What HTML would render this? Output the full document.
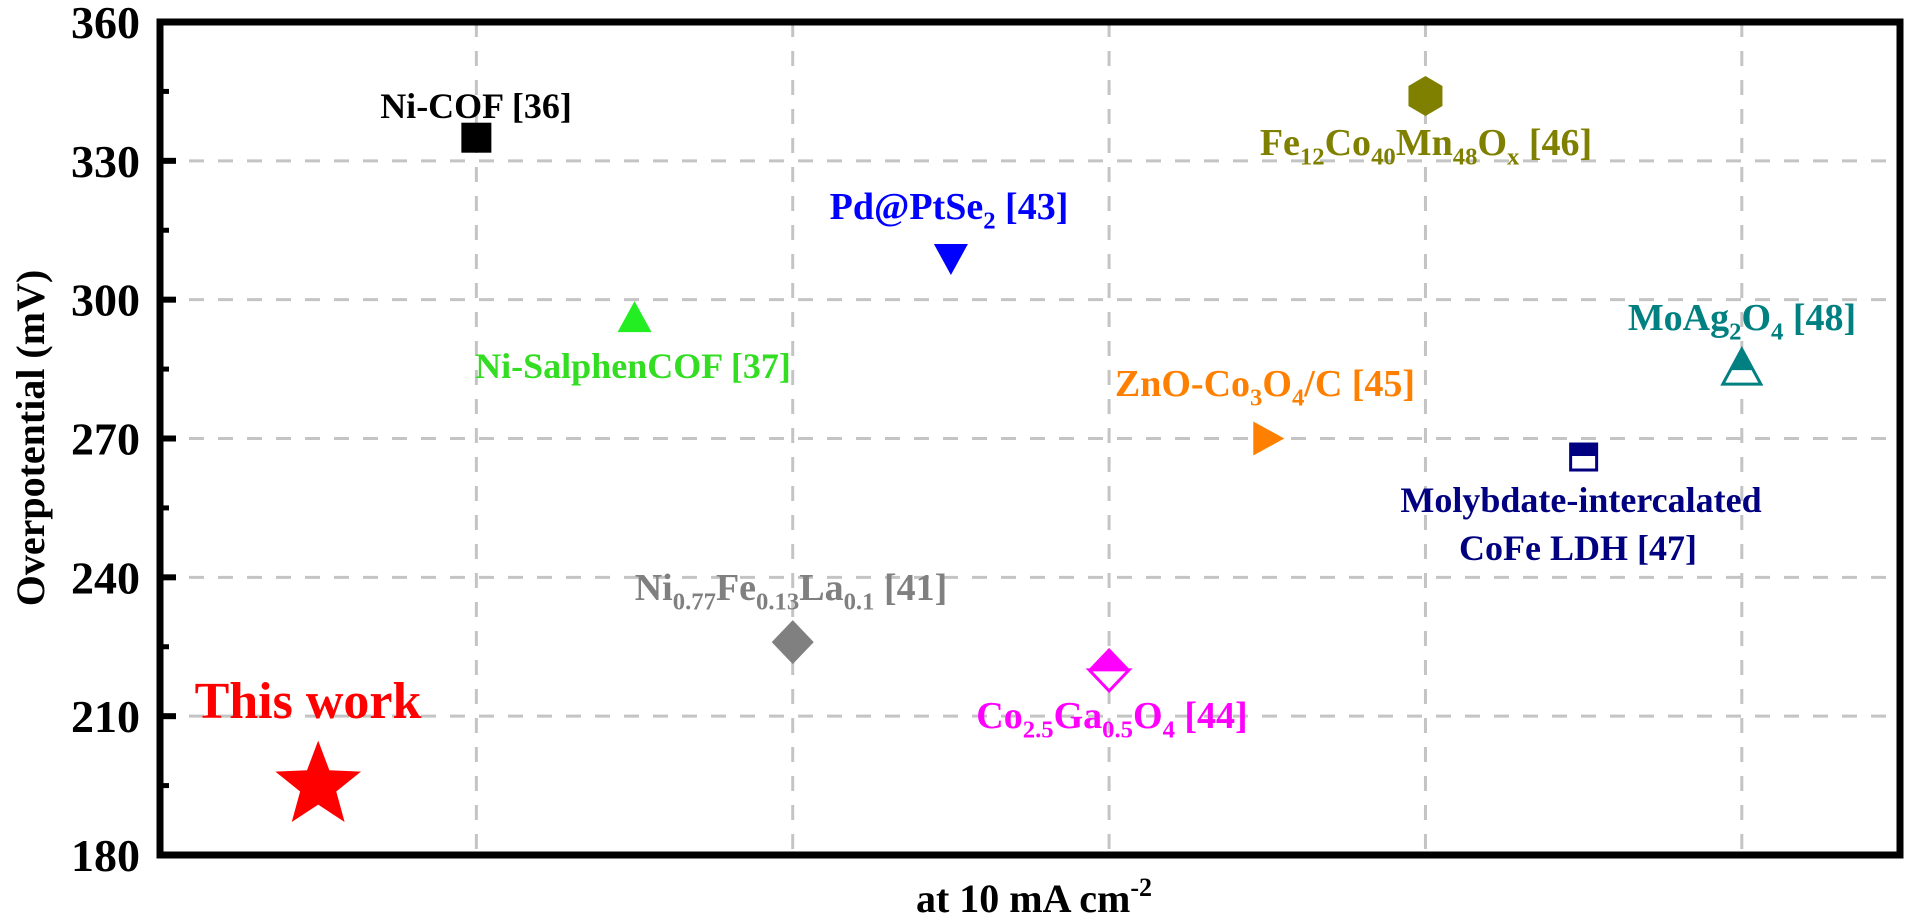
<!DOCTYPE html>
<html><head><meta charset="utf-8"><style>
html,body{margin:0;padding:0;background:#fff;}
svg{display:block;font-family:"Liberation Serif",serif;font-weight:bold;}
</style></head><body>
<svg id="chart" width="1908" height="918" viewBox="0 0 1908 918" xmlns="http://www.w3.org/2000/svg">
<g id="grid"></g>
<g id="marks"></g>
<g id="labels"></g>
<g id="axes"></g>
</svg>
<script>
const names = ["This work","Ni-COF [36]","Ni-SalphenCOF [37]","Ni0.77Fe0.13La0.1 [41]","Pd@PtSe2 [43]","Co2.5Ga0.5O4 [44]","ZnO-Co3O4/C [45]","Fe12Co40Mn48Ox [46]","Molybdate-intercalated CoFe LDH [47]","MoAg2O4 [48]"];
const xPos = [1,2,3,4,5,6,7,8,9,10];
const overpotential = [195,335,296,226,309,220,270,344,266,285];
const yTicks = [180,210,240,270,300,330,360];
const xTitle = "at 10 mA cm";
const yTitle = "Overpotential (mV)";

const X0=160,X1=1900,Y0=855,Y1=22;
const xs=k=>X0+(X1-X0)*k/11;
const ys=v=>Y0-(Y0-Y1)*(v-180)/180;
const NS="http://www.w3.org/2000/svg";
function mk(tag,attrs,parent){const e=document.createElementNS(NS,tag);for(const k in attrs)e.setAttribute(k,attrs[k]);parent.appendChild(e);return e;}
const grid=document.getElementById('grid'),marks=document.getElementById('marks'),labels=document.getElementById('labels'),axes=document.getElementById('axes');

// grid
for(let k=2;k<=10;k+=2){const l=mk('line',{x1:xs(k),x2:xs(k),y1:Y1,y2:Y0,stroke:'#c4c4c4','stroke-width':3,'stroke-dasharray':'15 14'},grid);

}
yTicks.slice(1,-1).forEach(v=>{const l=mk('line',{x1:X0,x2:X1,y1:ys(v),y2:ys(v),stroke:'#c4c4c4','stroke-width':3,'stroke-dasharray':'15 14'},grid);

});

// axes
const fr=mk('rect',{x:X0,y:Y1,width:X1-X0,height:Y0-Y1,fill:'none',stroke:'#000','stroke-width':7},axes);


yTicks.forEach(v=>{
 const t=mk('line',{x1:X0,x2:X0+16,y1:ys(v),y2:ys(v),stroke:'#000','stroke-width':6},axes);
 
 
 const tx=mk('text',{x:140,y:ys(v)+16,'text-anchor':'end','font-size':46},axes);
 tx.textContent=v;
 
 
 if(v<360){const m=mk('line',{x1:X0,x2:X0+9,y1:ys(v+15),y2:ys(v+15),stroke:'#000','stroke-width':5},axes);
 
 }
});
const yt=mk('text',{x:0,y:0,'text-anchor':'middle','font-size':40,transform:'translate(44,438) rotate(-90)'},axes);
yt.textContent=yTitle;


const xt=mk('text',{x:1034,y:912,'text-anchor':'middle','font-size':40},axes);
xt.textContent=xTitle;
const sup=mk('tspan',{'font-size':26,dy:-16},xt);sup.textContent='-2';



// markers
const colors=['#ff0000','#000000','#22ee22','#808080','#0000ff','#ff00ff','#ff8000','#808000','#000080','#008080'];
function marker(i){
 const cx=xs(xPos[i]),cy=ys(overpotential[i]),c=colors[i];let g=mk('g',{},marks);
 const P=(pts)=>pts.map(p=>(cx+p[0])+','+(cy+p[1])).join(' ');
 switch(i){
 case 0:{let pts=[];for(let j=0;j<10;j++){const r=j%2?19:45,a=-Math.PI/2+j*Math.PI/5;pts.push([r*Math.cos(a),r*Math.sin(a)]);}mk('polygon',{points:P(pts),fill:c},g);break;}
 case 1:mk('rect',{x:cx-15,y:cy-15,width:30,height:30,fill:c},g);break;
 case 2:mk('polygon',{points:P([[0,-17],[17,14],[-17,14]]),fill:c},g);break;
 case 3:mk('polygon',{points:P([[0,-22],[21,0],[0,22],[-21,0]]),fill:c},g);break;
 case 4:mk('polygon',{points:P([[-17,-14],[17,-14],[0,17]]),fill:c},g);break;
 case 5:mk('polygon',{points:P([[0,-22],[21,0],[-21,0]]),fill:c},g);mk('polygon',{points:P([[-20,0],[20,0],[0,21]]),fill:'#fff',stroke:c,'stroke-width':3},g);break;
 case 6:mk('polygon',{points:P([[-14,-17],[17,0],[-14,17]]),fill:c},g);break;
 case 7:mk('polygon',{points:P([[0,-20],[17,-10],[17,10],[0,20],[-17,10],[-17,-10]]),fill:c},g);break;
 case 8:mk('rect',{x:cx-13,y:cy-13,width:26,height:26,fill:'#fff',stroke:c,'stroke-width':3},g);mk('rect',{x:cx-13,y:cy-13,width:26,height:12,fill:c},g);break;
 case 9:mk('polygon',{points:P([[0,-20],[19,15],[-19,15]]),fill:'#fff',stroke:c,'stroke-width':3},g);mk('polygon',{points:P([[0,-20],[11.4,1],[-11.4,1]]),fill:c},g);break;
 }
 
 
}
for(let i=0;i<names.length;i++)marker(i);

// labels: [x, y, fontsize, parts] parts: [text, isSub]
function lab(x,y,fs,color,parts,name){
 const t=mk('text',{x:x,y:y,'text-anchor':'middle','font-size':fs,fill:color},labels);
 let sub=false;
 parts.forEach(p=>{const s=mk('tspan',{},t);s.textContent=p[0];
  if(p[1]&&!sub){s.setAttribute('font-size',fs*0.65);s.setAttribute('dy',fs*0.25);sub=true;}
  else if(!p[1]&&sub){s.setAttribute('dy',-fs*0.25);sub=false;}
  else if(p[1]){s.setAttribute('font-size',fs*0.65);}
 });
 
 
}
lab(308,718,52,colors[0],[["This work"]],'label-this-work');
lab(476,118,36,colors[1],[["Ni-COF [36]"]],'label-ni-cof');
lab(633,378,36,'#33dd22',[["Ni-SalphenCOF [37]"]],'label-ni-salphencof');
lab(791,600,38,colors[3],[["Ni"],["0.77",1],["Fe"],["0.13",1],["La"],["0.1",1],[" [41]"]],'label-nifela');
lab(949,219,38,colors[4],[["Pd@PtSe"],["2",1],[" [43]"]],'label-pd-ptse2');
lab(1112,728,38,colors[5],[["Co"],["2.5",1],["Ga"],["0.5",1],["O"],["4",1],[" [44]"]],'label-cogao');
lab(1265,396,38,colors[6],[["ZnO-Co"],["3",1],["O"],["4",1],["/C [45]"]],'label-zno-co3o4');
lab(1426,155,38,colors[7],[["Fe"],["12",1],["Co"],["40",1],["Mn"],["48",1],["O"],["x",1],[" [46]"]],'label-fecomno');
lab(1581,512,36,colors[8],[["Molybdate-intercalated"]],'label-molybdate-line1');
lab(1578,560,36,colors[8],[["CoFe LDH [47]"]],'label-molybdate-line2');
lab(1742,330,38,colors[9],[["MoAg"],["2",1],["O"],["4",1],[" [48]"]],'label-moag2o4');
</script>
</body></html>
